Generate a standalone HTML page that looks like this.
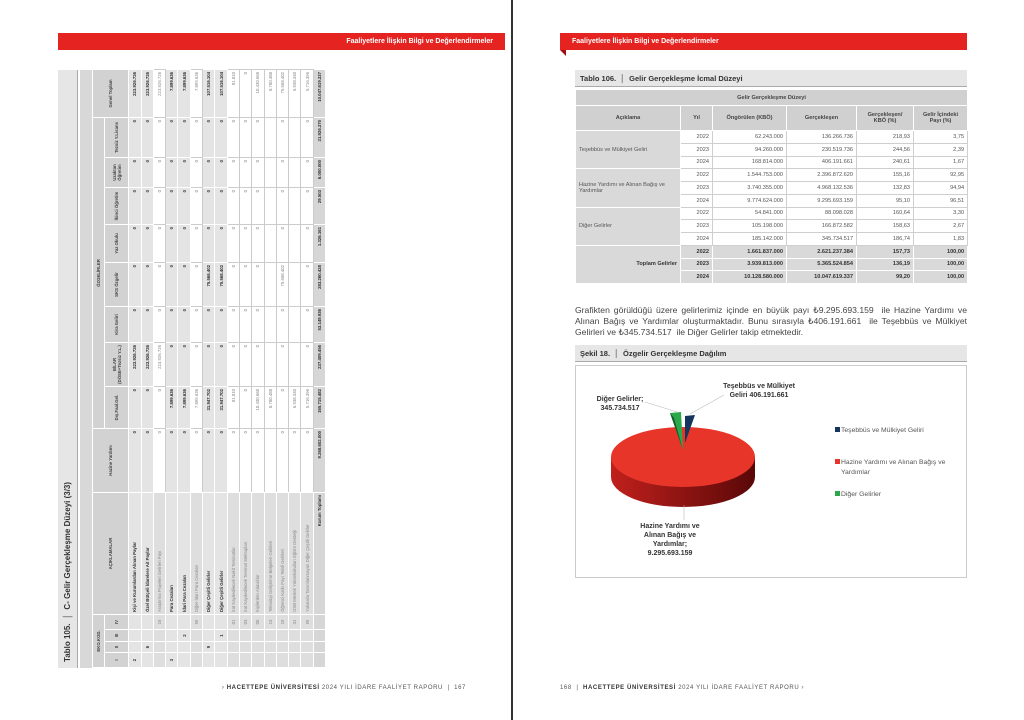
<!DOCTYPE html>
<html><head><meta charset="utf-8">
<style>
*{margin:0;padding:0;box-sizing:border-box}
body{width:1024px;height:720px;background:#fff;position:relative;overflow:hidden;font-family:"Liberation Sans",sans-serif;color:#333}
.abs{position:absolute}
.red{background:#e52421;color:#fff;font-weight:bold;font-size:7px;line-height:17px;height:17px}
.foot{font-size:6px;color:#555;letter-spacing:.6px;top:685px}
.foot b{color:#333}
#lt{position:absolute;left:58px;top:668px;width:598px;height:267px;transform-origin:0 0;transform:rotate(-90deg)}
#lt table{border-collapse:collapse;table-layout:fixed;width:598px;position:absolute;left:0;top:34px}
#lt td{border:1px solid #fff;font-size:4.3px;height:12.3px;text-align:right;padding:0 2px;white-space:nowrap;overflow:hidden;background:#fff;color:#888;border-color:#ccc}
#lt tr.b td{font-weight:bold;color:#333;background:#e4e4e4;border-color:#fff}
#lt td.g{background:#dedede;border-color:#fff}
#lt td.l{text-align:left}
#lt td.c{text-align:center}
#lt tr.h td{background:#d2d2d2;color:#444;font-weight:bold;border-color:#fff;text-align:center;white-space:normal;line-height:5px}
#lt tr.t td{background:#d6d6d6;color:#333;font-weight:bold;border-color:#fff}
#rt{border-collapse:collapse;table-layout:fixed;position:absolute;left:575px;top:89px;width:392px}
#rt td{font-size:5.6px;height:12.75px;border:1px solid #cfcfcf;text-align:right;padding:0 3px;color:#555}
#rt td.a{background:#d9d9d9;text-align:left;color:#555;border-color:#fff}
#rt tr.h td{background:#d0d0d0;text-align:center;font-weight:bold;color:#444;border-color:#fff}
#rt tr.t td{background:#d9d9d9;font-weight:bold;color:#333;border-color:#fff}
.tbar{background:#e6e6e6;border-bottom:1px solid #aaa;font-weight:bold;color:#333}
</style></head><body>
<div class="abs" style="left:511px;top:0;width:2px;height:720px;background:#333"></div>

<div class="abs red" style="left:58px;top:33px;width:447px;text-align:right;padding-right:12px">Faaliyetlere İlişkin Bilgi ve Değerlendirmeler</div>
<div class="abs red" style="left:560px;top:33px;width:407px;padding-left:12px">Faaliyetlere İlişkin Bilgi ve Değerlendirmeler</div>
<div class="abs" style="left:560px;top:50px;width:0;height:0;border-top:6px solid #a01010;border-left:6px solid transparent"></div>

<div class="abs foot" style="left:200px;width:266px;text-align:right">› <b>HACETTEPE ÜNİVERSİTESİ</b> 2024 YILI İDARE FAALİYET RAPORU &nbsp;|&nbsp; 167</div>
<div class="abs foot" style="left:560px">168 &nbsp;|&nbsp; <b>HACETTEPE ÜNİVERSİTESİ</b> 2024 YILI İDARE FAALİYET RAPORU ›</div>

<div id="lt">
<div class="abs tbar" style="left:0;top:0;width:598px;height:20px;font-size:8px;line-height:20px;padding-left:6px">Tablo 105. &nbsp;│&nbsp; C- Gelir Gerçekleşme Düzeyi (3/3)</div>
<div class="abs" style="left:0;top:22px;width:598px;height:12px;background:#d8d8d8"></div>
<table>
<colgroup><col style="width:15px"><col style="width:11px"><col style="width:12px"><col style="width:15px"><col style="width:122px"><col style="width:64px"><col style="width:42px"><col style="width:44px"><col style="width:36px"><col style="width:44px"><col style="width:38px"><col style="width:37px"><col style="width:30px"><col style="width:40px"><col style="width:48px"></colgroup>
<tr class="h"><td colspan="4" style="height:11px">EKO.KOD.</td><td rowspan="2">AÇIKLAMALAR</td><td rowspan="2">Hazine Yardımı</td><td colspan="8">ÖZGELİRLER</td><td rowspan="2">Genel Toplam</td></tr>
<tr class="h"><td style="height:24px">I</td><td>II</td><td>III</td><td>IV</td><td>Dış.Faal.Gel.</td><td>BİLAR (DÖSE+Tezsiz Y.L.)</td><td>Kira Geliri</td><td>SKS Özgelir</td><td>Yaz Okulu</td><td>İkinci Öğretim</td><td>Uzaktan Öğretim</td><td>Tezsiz Y.Lisans</td></tr>
<tr class="b"><td class="c">2</td><td></td><td></td><td></td><td class="l">Kişi ve Kurumlardan Alınan Paylar</td><td>0</td><td>0</td><td>223.926.726</td><td>0</td><td>0</td><td>0</td><td>0</td><td>0</td><td>0</td><td>223.926.726</td></tr>
<tr class="b"><td></td><td class="c">6</td><td></td><td></td><td class="l">Özel Bütçeli İdarelere Ait Paylar</td><td>0</td><td>0</td><td>223.926.726</td><td>0</td><td>0</td><td>0</td><td>0</td><td>0</td><td>0</td><td>223.926.726</td></tr>
<tr><td class="g"></td><td class="g"></td><td class="g"></td><td class="g c">16</td><td class="g l">Araştırma Projeleri Gelirleri Payı</td><td>0</td><td>0</td><td>223.926.726</td><td>0</td><td>0</td><td>0</td><td>0</td><td>0</td><td>0</td><td>223.926.726</td></tr>
<tr class="b"><td class="c">3</td><td></td><td></td><td></td><td class="l">Para Cezaları</td><td>0</td><td>7.899.636</td><td>0</td><td>0</td><td>0</td><td>0</td><td>0</td><td>0</td><td>0</td><td>7.899.636</td></tr>
<tr class="b"><td></td><td></td><td class="c">2</td><td></td><td class="l">İdari Para Cezaları</td><td>0</td><td>7.899.636</td><td>0</td><td>0</td><td>0</td><td>0</td><td>0</td><td>0</td><td>0</td><td>7.899.636</td></tr>
<tr><td class="g"></td><td class="g"></td><td class="g"></td><td class="g c">99</td><td class="g l">Diğer İdari Para Cezaları</td><td>0</td><td>7.899.636</td><td>0</td><td>0</td><td>0</td><td>0</td><td>0</td><td>0</td><td>0</td><td>7.899.636</td></tr>
<tr class="b"><td></td><td class="c">9</td><td></td><td></td><td class="l">Diğer Çeşitli Gelirler</td><td>0</td><td>31.947.702</td><td>0</td><td>0</td><td>75.568.402</td><td>0</td><td>0</td><td>0</td><td>0</td><td>107.516.104</td></tr>
<tr class="b"><td></td><td></td><td class="c">1</td><td></td><td class="l">Diğer Çeşitli Gelirler</td><td>0</td><td>31.947.702</td><td>0</td><td>0</td><td>75.568.402</td><td>0</td><td>0</td><td>0</td><td>0</td><td>107.516.104</td></tr>
<tr><td class="g"></td><td class="g"></td><td class="g"></td><td class="g c">01</td><td class="g l">İrat Kaydedilecek Nakit Teminatlar</td><td>0</td><td>81.810</td><td>0</td><td>0</td><td>0</td><td>0</td><td>0</td><td>0</td><td>0</td><td>81.810</td></tr>
<tr><td class="g"></td><td class="g"></td><td class="g"></td><td class="g c">03</td><td class="g l">İrat Kaydedilecek Teminat Mektupları</td><td>0</td><td>0</td><td>0</td><td>0</td><td>0</td><td>0</td><td>0</td><td>0</td><td>0</td><td>0</td></tr>
<tr><td class="g"></td><td class="g"></td><td class="g"></td><td class="g c">06</td><td class="g l">Kişilerden Alacaklar</td><td>0</td><td>10.430.668</td><td>0</td><td>0</td><td>0</td><td>0</td><td>0</td><td>0</td><td>0</td><td>10.430.668</td></tr>
<tr><td class="g"></td><td class="g"></td><td class="g"></td><td class="g c">13</td><td class="g l">Teknoloji Geliştirme Bölgeleri Gelirleri</td><td></td><td>8.780.488</td><td></td><td></td><td></td><td></td><td></td><td></td><td></td><td>8.780.488</td></tr>
<tr><td class="g"></td><td class="g"></td><td class="g"></td><td class="g c">19</td><td class="g l">Öğrenci Katkı Payı Telafi Gelirleri</td><td>0</td><td>0</td><td>0</td><td>0</td><td>75.568.402</td><td>0</td><td>0</td><td>0</td><td>0</td><td>75.568.402</td></tr>
<tr><td class="g"></td><td class="g"></td><td class="g"></td><td class="g c">31</td><td class="g l">OSB Meslek Yüksekokulları Eğitim Desteği</td><td>0</td><td>6.938.340</td><td></td><td></td><td></td><td></td><td></td><td></td><td></td><td>6.938.340</td></tr>
<tr><td class="g"></td><td class="g"></td><td class="g"></td><td class="g c">99</td><td class="g l">Yukarıda Tanımlanmayan Diğer Çeşitli Gelirler</td><td>0</td><td>5.716.396</td><td>0</td><td>0</td><td>0</td><td>0</td><td>0</td><td>0</td><td>0</td><td>5.716.396</td></tr>
<tr class="t"><td></td><td></td><td></td><td></td><td>Kurum Toplamı</td><td>9.268.602.000</td><td>165.715.482</td><td>237.409.456</td><td>53.149.936</td><td>283.260.428</td><td>1.326.161</td><td>29.503</td><td>6.000.000</td><td>31.926.370</td><td>10.047.619.337</td></tr>
</table>
</div>

<div class="abs tbar" style="left:575px;top:70px;width:392px;height:17px;font-size:7.5px;line-height:17px;padding-left:5px">Tablo 106. &nbsp;│&nbsp; Gelir Gerçekleşme İcmal Düzeyi</div>
<table id="rt">
<colgroup><col style="width:105px"><col style="width:32px"><col style="width:74px"><col style="width:70px"><col style="width:57px"><col style="width:54px"></colgroup>
<tr class="h"><td colspan="6" style="height:16px">Gelir Gerçekleşme Düzeyi</td></tr>
<tr class="h"><td style="height:25px">Açıklama</td><td>Yıl</td><td>Öngörülen (KBÖ)</td><td>Gerçekleşen</td><td>Gerçekleşen/<br>KBÖ (%)</td><td>Gelir İçindeki<br>Payı (%)</td></tr>
<tr><td class="a" rowspan="3">Teşebbüs ve Mülkiyet Geliri</td><td>2022</td><td>62.243.000</td><td>136.266.736</td><td>218,93</td><td>3,75</td></tr>
<tr><td>2023</td><td>94.260.000</td><td>230.519.736</td><td>244,56</td><td>2,39</td></tr>
<tr><td>2024</td><td>168.814.000</td><td>406.191.661</td><td>240,61</td><td>1,67</td></tr>
<tr><td class="a" rowspan="3">Hazine Yardımı ve Alınan Bağış ve Yardımlar</td><td>2022</td><td>1.544.753.000</td><td>2.396.872.620</td><td>155,16</td><td>92,95</td></tr>
<tr><td>2023</td><td>3.740.355.000</td><td>4.968.132.536</td><td>132,83</td><td>94,94</td></tr>
<tr><td>2024</td><td>9.774.624.000</td><td>9.295.693.159</td><td>95,10</td><td>96,51</td></tr>
<tr><td class="a" rowspan="3">Diğer Gelirler</td><td>2022</td><td>54.841.000</td><td>88.098.028</td><td>160,64</td><td>3,30</td></tr>
<tr><td>2023</td><td>105.198.000</td><td>166.872.582</td><td>158,63</td><td>2,67</td></tr>
<tr><td>2024</td><td>185.142.000</td><td>345.734.517</td><td>186,74</td><td>1,83</td></tr>
<tr class="t"><td rowspan="3">Toplam Gelirler</td><td>2022</td><td>1.661.837.000</td><td>2.621.237.384</td><td>157,73</td><td>100,00</td></tr>
<tr class="t"><td>2023</td><td>3.939.813.000</td><td>5.365.524.854</td><td>136,19</td><td>100,00</td></tr>
<tr class="t"><td>2024</td><td>10.128.580.000</td><td>10.047.619.337</td><td>99,20</td><td>100,00</td></tr>
</table>

<div class="abs" style="left:575px;top:305px;width:392px;font-size:8.6px;line-height:11px;text-align:justify;text-align-last:left;color:#444">Grafikten görüldüğü üzere gelirlerimiz içinde en büyük payı ₺9.295.693.159 &nbsp;ile Hazine Yardımı ve Alınan Bağış ve Yardımlar oluşturmaktadır. Bunu sırasıyla ₺406.191.661 &nbsp;ile Teşebbüs ve Mülkiyet Gelirleri ve ₺345.734.517 &nbsp;ile Diğer Gelirler takip etmektedir.</div>

<div class="abs tbar" style="left:575px;top:345px;width:392px;height:17px;font-size:7.5px;line-height:17px;padding-left:5px">Şekil 18. &nbsp;│&nbsp; Özgelir Gerçekleşme Dağılım</div>
<div class="abs" style="left:575px;top:365px;width:392px;height:213px;border:1px solid #ccc"></div>
<svg class="abs" style="left:0;top:0" width="1024" height="720">
<defs><linearGradient id="sd" x1="0" x2="1"><stop offset="0" stop-color="#c0201c"/><stop offset="1" stop-color="#5a0808"/></linearGradient></defs>
<path d="M611 457 L611 477 A72 30 0 0 0 755 477 L755 457 Z" fill="url(#sd)"/>
<ellipse cx="683" cy="457" rx="72" ry="30" fill="#e8352a"/>
<polygon points="670,413 681,412 683,450" fill="#2aa84a"/>
<polygon points="670,413 674,418 683,450" fill="#145c28"/>
<polygon points="685,416 695,415 685,443" fill="#14365e"/>
<line x1="677" y1="412" x2="645" y2="402" stroke="#bbb" stroke-width=".6"/>
<line x1="690" y1="414" x2="724" y2="395" stroke="#bbb" stroke-width=".6"/>
<line x1="684" y1="505" x2="684" y2="520" stroke="#bbb" stroke-width=".6"/>
<g font-family="Liberation Sans,sans-serif" font-size="7" font-weight="bold" fill="#333">
<text x="759" y="388" text-anchor="middle">Teşebbüs ve Mülkiyet</text>
<text x="759" y="397" text-anchor="middle">Geliri  406.191.661</text>
<text x="620" y="401" text-anchor="middle">Diğer Gelirler;</text>
<text x="620" y="410" text-anchor="middle">345.734.517</text>
<text x="670" y="528" text-anchor="middle">Hazine Yardımı ve</text>
<text x="670" y="537" text-anchor="middle">Alınan Bağış ve</text>
<text x="670" y="546" text-anchor="middle">Yardımlar;</text>
<text x="670" y="555" text-anchor="middle">9.295.693.159</text>
</g>
<g font-family="Liberation Sans,sans-serif" font-size="6.8" fill="#555">
<rect x="835" y="427" width="5" height="5" fill="#14365e"/><text x="841" y="432">Teşebbüs ve Mülkiyet Geliri</text>
<rect x="835" y="459" width="5" height="5" fill="#e8352a"/><text x="841" y="464">Hazine Yardımı ve Alınan Bağış ve</text><text x="841" y="474">Yardımlar</text>
<rect x="835" y="491" width="5" height="5" fill="#2aa84a"/><text x="841" y="496">Diğer Gelirler</text>
</g>
</svg>
</body></html>
